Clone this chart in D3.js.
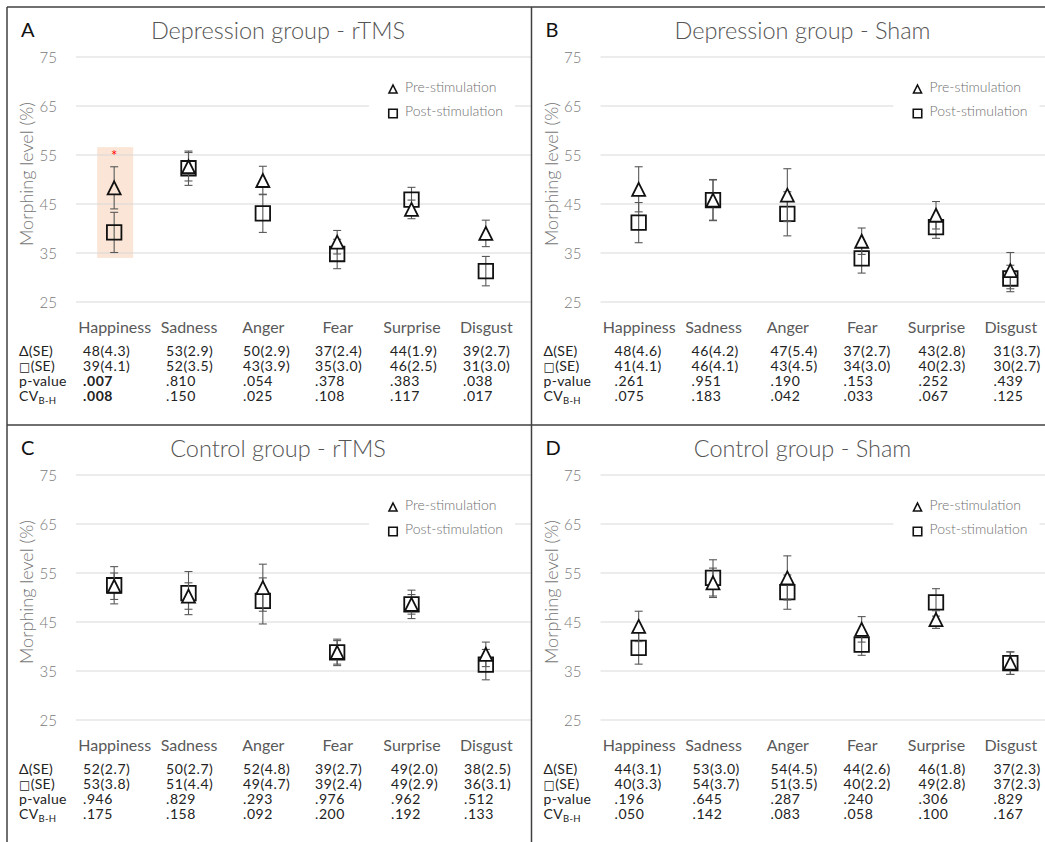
<!DOCTYPE html>
<html>
<head>
<meta charset="utf-8">
<script src="https://cdn.jsdelivr.net/npm/d3@7"></script>
<style>
  html, body { margin: 0; padding: 0; background: #fff; }
  svg { display: block; font-family: Lato, "Open Sans", sans-serif; }
</style>
</head>
<body>
<svg id="chart" width="1045" height="842"></svg>
<script>
// ---------- data ----------
const categories = ["Happiness", "Sadness", "Anger", "Fear", "Surprise", "Disgust"];
const yTicks = [25, 35, 45, 55, 65, 75];
const seriesNames = ["Pre-stimulation", "Post-stimulation"];

// Panel A: Depression group - rTMS
const preA = [48.3, 52.6, 49.8, 37.2, 43.9, 39.0];
const preSeA = [4.3, 2.9, 2.9, 2.4, 1.9, 2.7];
const postA = [39.2, 52.3, 43.1, 34.8, 45.9, 31.3];
const postSeA = [4.1, 3.5, 3.9, 3.0, 2.5, 3.0];
const preTabA = [48, 53, 50, 37, 44, 39];
const postTabA = [39, 52, 43, 35, 46, 31];
const pA = [".007", ".810", ".054", ".378", ".383", ".038"];
const cvA = [".008", ".150", ".025", ".108", ".117", ".017"];

// Panel B: Depression group - Sham
const preB = [48.0, 45.8, 46.8, 37.4, 42.7, 31.4];
const preSeB = [4.6, 4.2, 5.4, 2.7, 2.8, 3.7];
const postB = [41.2, 45.8, 43.0, 33.9, 40.3, 29.8];
const postSeB = [4.1, 4.1, 4.5, 3.0, 2.3, 2.7];
const preTabB = [48, 46, 47, 37, 43, 31];
const postTabB = [41, 46, 43, 34, 40, 30];
const pB = [".261", ".951", ".190", ".153", ".252", ".439"];
const cvB = [".075", ".183", ".042", ".033", ".067", ".125"];

// Panel C: Control group - rTMS
const preC = [52.3, 50.3, 52.0, 38.8, 48.6, 38.4];
const preSeC = [2.7, 2.7, 4.8, 2.7, 2.0, 2.5];
const postC = [52.5, 50.9, 49.3, 38.8, 48.6, 36.3];
const postSeC = [3.8, 4.4, 4.7, 2.4, 2.9, 3.1];
const preTabC = [52, 50, 52, 39, 49, 38];
const postTabC = [53, 51, 49, 39, 49, 36];
const pC = [".946", ".829", ".293", ".976", ".962", ".512"];
const cvC = [".175", ".158", ".092", ".200", ".192", ".133"];

// Panel D: Control group - Sham
const preD = [44.1, 53.0, 54.0, 43.5, 45.5, 36.6];
const preSeD = [3.1, 3.0, 4.5, 2.6, 1.8, 2.3];
const postD = [39.7, 54.0, 51.1, 40.4, 49.0, 36.6];
const postSeD = [3.3, 3.7, 3.5, 2.2, 2.8, 2.3];
const preTabD = [44, 53, 54, 44, 46, 37];
const postTabD = [40, 54, 51, 40, 49, 37];
const pD = [".196", ".645", ".287", ".240", ".306", ".829"];
const cvD = [".050", ".142", ".083", ".058", ".100", ".167"];

// ---------- layout ----------
const W = 1045, H = 842;
const divX = 531.5, divY = 425;
const panels = [
  { letter: "A", title: "Depression group - rTMS", ox: 7, oy: 7, w: divX - 7,
    pre: preA, preSe: preSeA, post: postA, postSe: postSeA, preTab: preTabA, postTab: postTabA, p: pA, cv: cvA,
    tableX: [76, 159, 236, 308, 383, 456], bold: 0, highlight: 0 },
  { letter: "B", title: "Depression group - Sham", ox: divX, oy: 7, w: W - divX,
    pre: preB, preSe: preSeB, post: postB, postSe: postSeB, preTab: preTabB, postTab: postTabB, p: pB, cv: cvB,
    tableX: [83, 160, 239, 312, 387, 462], bold: -1, highlight: -1 },
  { letter: "C", title: "Control group - rTMS", ox: 7, oy: divY, w: divX - 7,
    pre: preC, preSe: preSeC, post: postC, postSe: postSeC, preTab: preTabC, postTab: postTabC, p: pC, cv: cvC,
    tableX: [76, 159, 236, 308, 384, 457], bold: -1, highlight: -1 },
  { letter: "D", title: "Control group - Sham", ox: divX, oy: divY, w: W - divX,
    pre: preD, preSe: preSeD, post: postD, postSe: postSeD, preTab: preTabD, postTab: postTabD, p: pD, cv: cvD,
    tableX: [83, 161, 239, 312, 387, 462], bold: -1, highlight: -1 }
];

const svg = d3.select("#chart");
svg.append("rect").attr("width", W).attr("height", H).attr("fill", "#fff");

const x = d3.scalePoint().domain(categories).range([70, 516]).padding(0.5);
const y = d3.scaleLinear().domain([25, 75]).range([295, 50]);

const triPath = s => `M0,${-s / 2}L${s / 2},${s / 2}L${-s / 2},${s / 2}Z`;
const sqPath = s => `M${-s / 2},${-s / 2}H${s / 2}V${s / 2}H${-s / 2}Z`;
const peach = "#fbe5d6";

panels.forEach(P => {
  const g = svg.append("g").attr("transform", `translate(${P.ox},${P.oy})`);

  // significance highlight (behind gridlines)
  if (P.highlight >= 0) {
    const hc = x(categories[P.highlight]);
    g.append("rect").attr("x", hc - 17).attr("width", 36)
      .attr("y", y(56.6)).attr("height", y(34) - y(56.6))
      .attr("fill", peach);
  }

  // gridlines
  g.append("g").selectAll("line").data(yTicks).join("line")
    .attr("x1", 69).attr("x2", P.w).attr("y1", d => y(d)).attr("y2", d => y(d))
    .attr("stroke", "#d9d9d9").attr("stroke-width", 1);

  // y axis labels
  const ya = g.append("g").attr("transform", "translate(50,0)")
    .call(d3.axisLeft(y).tickValues(yTicks).tickSize(0).tickPadding(0));
  ya.select(".domain").remove();
  ya.selectAll("text").attr("font-family", "Lato, sans-serif").attr("font-size", 15)
    .attr("font-weight", 300).attr("fill", "#7a7a7a").attr("dy", "0.36em");

  // y title
  g.append("text").attr("transform", "translate(26,167) rotate(-90)")
    .attr("text-anchor", "middle").attr("font-size", 18).attr("font-weight", 300)
    .attr("fill", "#767676").text("Morphing level (%)");

  // title + letter
  g.append("text").attr("x", 271).attr("y", 32).attr("text-anchor", "middle")
    .attr("font-size", 23.5).attr("font-weight", 300).attr("fill", "#555").text(P.title);
  g.append("text").attr("x", 14).attr("y", 30).attr("font-size", 20).attr("fill", "#111")
    .text(P.letter);

  // legend
  const lg = g.append("g");
  lg.append("rect").attr("x", 362).attr("y", 66).attr("width", 146).attr("height", 52).attr("fill", "#fff");
  lg.append("path").attr("d", triPath(8)).attr("transform", "translate(386,82)")
    .attr("fill", "none").attr("stroke", "#111").attr("stroke-width", 1.6);
  lg.append("path").attr("d", sqPath(8.5)).attr("transform", "translate(386,106.5)")
    .attr("fill", "none").attr("stroke", "#111").attr("stroke-width", 1.6);
  lg.selectAll("text.leg").data(seriesNames).join("text").attr("class", "leg")
    .attr("x", 398).attr("y", (d, i) => 85 + i * 24)
    .attr("font-size", 14).attr("font-weight", 300).attr("fill", "#707070").text(d => d);

  // error bars helper
  function errorBars(vals, ses, cls) {
    const eb = g.append("g").attr("class", cls).attr("stroke", "#595959").attr("stroke-width", 1.1);
    categories.forEach((c, i) => {
      const cx = x(c), top = y(vals[i] + ses[i]), bot = y(vals[i] - ses[i]);
      eb.append("line").attr("x1", cx).attr("x2", cx).attr("y1", top).attr("y2", bot);
      eb.append("line").attr("x1", cx - 4).attr("x2", cx + 4).attr("y1", top).attr("y2", top);
      eb.append("line").attr("x1", cx - 4).attr("x2", cx + 4).attr("y1", bot).attr("y2", bot);
    });
  }

  // post (squares)
  errorBars(P.post, P.postSe, "eb-post");
  g.append("g").selectAll("path").data(categories).join("path")
    .attr("d", sqPath(14.5))
    .attr("transform", (c, i) => `translate(${x(c)},${y(P.post[i])})`)
    .attr("fill", "none").attr("stroke", "#111").attr("stroke-width", 1.8);

  // pre (triangles)
  errorBars(P.pre, P.preSe, "eb-pre");
  g.append("g").selectAll("path").data(categories).join("path")
    .attr("d", triPath(13))
    .attr("transform", (c, i) => `translate(${x(c)},${y(P.pre[i])})`)
    .attr("fill", (c, i) => i === P.highlight ? peach : "#fff")
    .attr("stroke", "#111").attr("stroke-width", 1.8);

  if (P.highlight >= 0) {
    g.append("text").attr("x", x(categories[P.highlight])).attr("y", y(53.8))
      .attr("text-anchor", "middle").attr("font-size", 15).attr("fill", "#ff0000").text("*");
  }

  // category labels
  const xa = g.append("g").attr("transform", "translate(0,326)")
    .call(d3.axisBottom(x).tickSize(0).tickPadding(0));
  xa.select(".domain").remove();
  xa.selectAll("text").attr("y", 0).attr("dy", 0)
    .attr("font-family", "Lato, sans-serif").attr("font-size", 16).attr("fill", "#595959");

  // table
  const rowY = [349, 364, 379, 394];
  const tf = 14;
  const ls = 0.6;
  const lab = g.append("g").attr("font-size", tf).attr("fill", "#222").attr("letter-spacing", 0.3);
  lab.append("text").attr("x", 12).attr("y", rowY[0]).text("\u0394(SE)");
  const r2 = lab.append("text").attr("x", 12).attr("y", rowY[1]);
  r2.append("tspan").attr("font-family", "DejaVu Sans").attr("font-size", 12).text("\u25A1");
  r2.append("tspan").text("(SE)");
  lab.append("text").attr("x", 12).attr("y", rowY[2]).text("p-value");
  const r4 = lab.append("text").attr("x", 12).attr("y", rowY[3]);
  r4.append("tspan").text("CV");
  r4.append("tspan").attr("font-size", 9.5).attr("dy", 3).text("B-H");

  const rows = [
    categories.map((c, i) => `${P.preTab[i]}(${P.preSe[i].toFixed(1)})`),
    categories.map((c, i) => `${P.postTab[i]}(${P.postSe[i].toFixed(1)})`),
    P.p,
    P.cv
  ];
  rows.forEach((row, r) => {
    g.append("g").selectAll("text").data(row).join("text")
      .attr("x", (d, i) => P.tableX[i]).attr("y", rowY[r])
      .attr("font-size", tf).attr("letter-spacing", ls).attr("fill", "#222")
      .attr("font-weight", (d, i) => (r >= 2 && i === P.bold) ? 700 : 400)
      .text(d => d);
  });
});

// panel borders
const bord = svg.append("g").attr("stroke", "#404040").attr("stroke-width", 1.5).attr("fill", "none");
bord.append("line").attr("x1", 7).attr("x2", W).attr("y1", 7).attr("y2", 7);
bord.append("line").attr("x1", 7).attr("x2", 7).attr("y1", 7).attr("y2", H);
bord.append("line").attr("x1", divX).attr("x2", divX).attr("y1", 7).attr("y2", H);
bord.append("line").attr("x1", 7).attr("x2", W).attr("y1", divY).attr("y2", divY);
</script>
</body>
</html>
